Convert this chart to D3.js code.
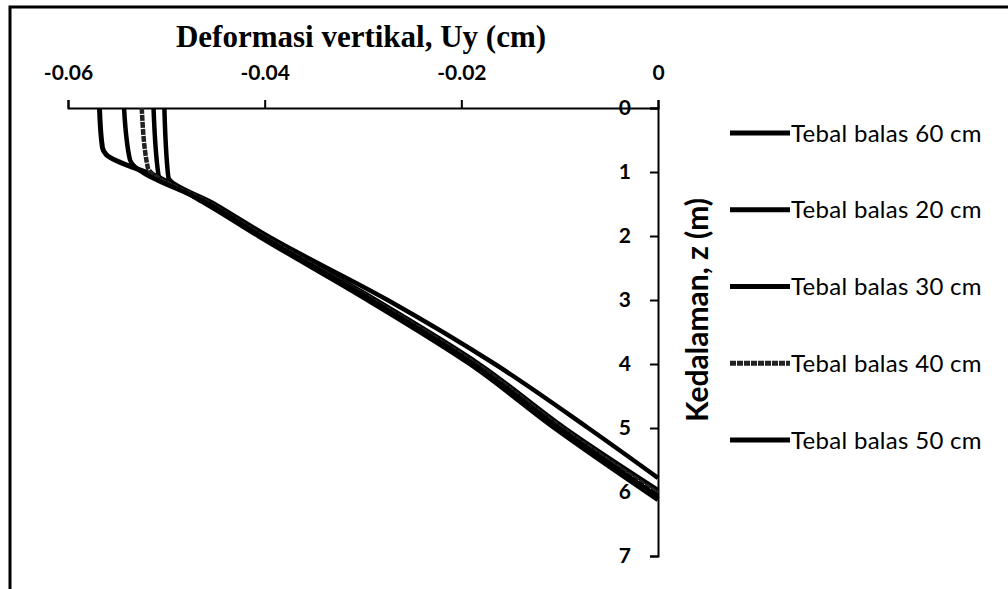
<!DOCTYPE html>
<html>
<head>
<meta charset="utf-8">
<script src="https://cdn.jsdelivr.net/npm/d3@7"></script>
<style>
  body { margin: 0; background: #fff; }
  text { font-family: Lato, "Noto Sans", sans-serif; }
</style>
</head>
<body>
<svg id="chart"></svg>
<script>
const width = 1008;
const height = 589;

// depth (m) and vertical deformation Uy (cm)
const depth60 = [0, 0.62, 0.73, 1.09, 1.5, 2, 3, 4, 5, 6.12];
const uy60 = [-0.0568, -0.0565, -0.0561, -0.0507, -0.0459, -0.0406, -0.0295, -0.0191, -0.0105, 0];
const depth20 = [0, 1.08, 1.5, 2, 3, 4, 5, 5.78];
const uy20 = [-0.0502, -0.0498, -0.0451, -0.0397, -0.0275, -0.0166, -0.0071, 0];
const depth30 = [0, 1.05, 1.5, 2, 3, 4, 5, 5.97];
const uy30 = [-0.0513, -0.0508, -0.0453, -0.0400, -0.0287, -0.0182, -0.0095, 0];
const depth40 = [0, 0.92, 1.5, 2, 3, 4, 5, 6.02];
const uy40 = [-0.0525, -0.0519, -0.0455, -0.0402, -0.0290, -0.0185, -0.0098, 0];
const depth50 = [0, 0.81, 1.5, 2, 3, 4, 5, 6.07];
const uy50 = [-0.0543, -0.0537, -0.0457, -0.0404, -0.0292, -0.0188, -0.0101, 0];

const seriesNames = ['Tebal balas 60 cm', 'Tebal balas 20 cm', 'Tebal balas 30 cm',
    'Tebal balas 40 cm', 'Tebal balas 50 cm'];
const xTicks = [-0.06, -0.04, -0.02, 0];
const xTickLabels = ['-0.06', '-0.04', '-0.02', '0'];
const yTicks = [0, 1, 2, 3, 4, 5, 6, 7];

const series = [
    { name: seriesNames[0], z: depth60, u: uy60, width: 5 },
    { name: seriesNames[1], z: depth20, u: uy20, width: 4.5 },
    { name: seriesNames[2], z: depth30, u: uy30, width: 4.5 },
    { name: seriesNames[3], z: depth40, u: uy40, width: 4.5, dash: '6 1', color: '#222' },
    { name: seriesNames[4], z: depth50, u: uy50, width: 4.5 }
];

const svg = d3.select('#chart')
    .attr('width', width)
    .attr('height', height)
    .style('background', '#fff');

// scanned page frame
svg.append('path')
    .attr('d', `M10,${height} L10,7 L${width},7`)
    .attr('fill', 'none')
    .attr('stroke', '#000')
    .attr('stroke-width', 3);

const x = d3.scaleLinear().domain([-0.06, 0]).range([68, 658]);
const y = d3.scaleLinear().domain([0, 7]).range([108, 556]);

const xAxis = svg.append('g')
    .attr('transform', `translate(0,${y(0)})`)
    .call(d3.axisTop(x).tickValues(xTicks).tickSize(8).tickPadding(20)
        .tickFormat((d, i) => xTickLabels[i]));

const yAxis = svg.append('g')
    .attr('transform', `translate(${x(0)},0)`)
    .call(d3.axisLeft(y).tickValues(yTicks).tickSize(8).tickPadding(19)
        .tickFormat(d3.format('d')));

[xAxis, yAxis].forEach(g => {
    g.select('.domain').attr('stroke', '#000').attr('stroke-width', 2);
    g.selectAll('.tick line').attr('stroke', '#000').attr('stroke-width', 2);
    g.selectAll('.tick text')
        .attr('fill', '#000')
        .style('font-family', 'Lato, sans-serif')
        .style('font-size', '21px')
        .style('font-weight', 'bold');
});

const line = d3.line()
    .x(d => x(d[1]))
    .y(d => y(d[0]))
    .curve(d3.curveMonotoneY);

svg.append('g')
    .selectAll('path')
    .data(series)
    .join('path')
    .attr('d', s => line(d3.zip(s.z, s.u)))
    .attr('fill', 'none')
    .attr('stroke', s => s.color || '#000')
    .attr('stroke-width', s => s.width)
    .attr('stroke-dasharray', s => s.dash || null)
    .attr('stroke-linejoin', 'round');

// titles
svg.append('text')
    .attr('x', 361)
    .attr('y', 47)
    .attr('text-anchor', 'middle')
    .style('font-family', '"Liberation Serif", "DejaVu Serif", serif')
    .style('font-weight', 'bold')
    .style('font-size', '31px')
    .text('Deformasi vertikal, Uy (cm)');

svg.append('text')
    .attr('transform', 'translate(708,310) rotate(-90)')
    .attr('text-anchor', 'middle')
    .style('font-weight', 'bold')
    .style('font-size', '30px')
    .text('Kedalaman, z (m)');

// legend
const legendY = d3.scalePoint().domain(seriesNames).range([133, 440]);
const legend = svg.append('g')
    .selectAll('g')
    .data(series)
    .join('g')
    .attr('transform', s => `translate(730,${legendY(s.name)})`);

legend.append('line')
    .attr('x1', 0).attr('x2', 60)
    .attr('stroke', s => s.color || '#000')
    .attr('stroke-width', 5)
    .attr('stroke-dasharray', s => s.dash || null);

legend.append('text')
    .attr('x', 61)
    .attr('dy', '0.36em')
    .style('font-size', '24px')
    .style('letter-spacing', '0.3px')
    .text(s => s.name);
</script>
</body>
</html>
